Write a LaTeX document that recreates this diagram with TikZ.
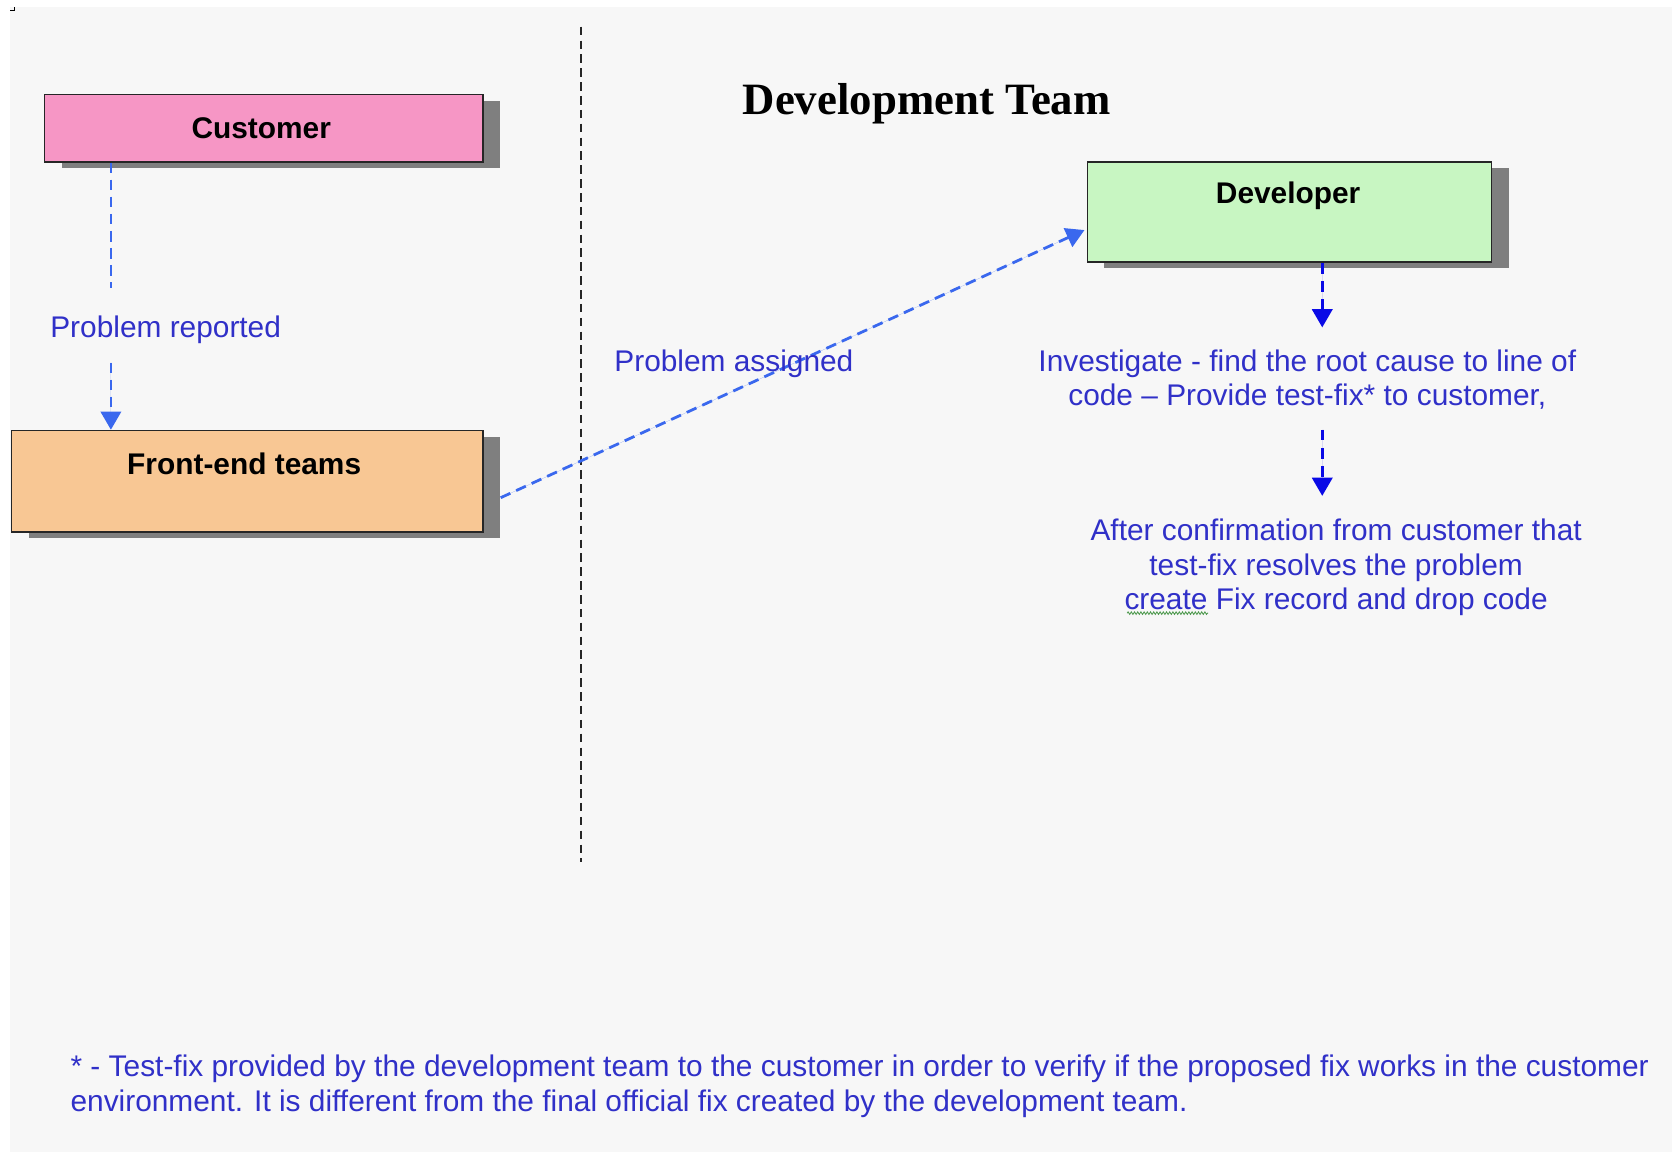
\documentclass[tikz,border=0pt]{standalone}
\usepackage{fontspec}
\setmainfont{Liberation Sans}
\newfontfamily\titlefont{Liberation Serif}
\usetikzlibrary{arrows.meta,shadows,decorations.pathmorphing}

\definecolor{pagegrey}{HTML}{F7F7F7}
\definecolor{custpink}{HTML}{F696C5}
\definecolor{frontpeach}{HTML}{F8C794}
\definecolor{devgreen}{HTML}{C8F6C2}
\definecolor{shadowgrey}{HTML}{7F7F7F}
\definecolor{flowblue}{HTML}{3A68EE}
\definecolor{stepblue}{HTML}{0A0AE6}
\definecolor{labelblue}{HTML}{3030C8}
\definecolor{spellgreen}{HTML}{4F9A4F}

\tikzset{
  rolebox/.style={draw=black!85, line width=1.5pt, minimum width=#1, anchor=north west,
    inner sep=0pt, drop shadow={shadow xshift=16pt, shadow yshift=-6pt,
    fill=shadowgrey, opacity=1}},
  rolename/.style={font=\fontsize{28}{32}\selectfont\bfseries, anchor=center, inner sep=0pt},
  bluetext/.style={font=\fontsize{28}{32.5}\selectfont, text=labelblue, inner sep=0pt, align=center},
  flow/.style={draw=flowblue, line width=2.6pt, dash pattern=on 10pt off 6pt},
  stepflow/.style={draw=stepblue, line width=2.6pt, dash pattern=on 10pt off 7pt},
  tip/.style={-{Triangle[width=19pt,length=17pt]}},
  divider/.style={draw=black!85, line width=2.2pt, dash pattern=on 8pt off 5pt},
}

\begin{document}
\begin{tikzpicture}[x=1pt, y=-1pt]
  % page
  \fill[white] (0,0) rectangle (1568,1080);
  \fill[pagegrey] (9.5,6.5) rectangle (1568,1080);
  \useasboundingbox (0,0) rectangle (1568,1080);
  \draw[black, line width=1.2pt] (9.5,10) -- (13.5,10) -- (13.5,6.5);

  % column divider
  \coordinate (divtop) at (545,25);
  \coordinate (divbot) at (545,808);
  \draw[divider] (divtop) -- (divbot);

  % title
  \node[font=\titlefont\fontsize{42}{46}\selectfont\bfseries, inner sep=0pt] (title) at (869,97) {Development Team};

  % role boxes
  \node[rolebox=411pt, minimum height=63pt, fill=custpink] (cust) at (41,88) {};
  \node[rolename] (custname) at (245,120) {Customer};

  \node[rolebox=442pt, minimum height=95pt, fill=frontpeach] (fe) at (10,403) {};
  \node[rolename] (fename) at (229,435) {Front-end teams};

  \node[rolebox=379pt, minimum height=94pt, fill=devgreen] (dev) at (1019,151) {};
  \node[rolename] (devname) at (1208,184) {Developer};

  % customer to front-end
  \coordinate (rep1) at (104,270);
  \coordinate (rep2) at (104,340);
  \draw[flow] (cust.south -| rep1) -- (rep1);
  \draw[flow, tip, fill=flowblue] (rep2) -- (fe.north -| rep2);
  \node[bluetext, anchor=west] (reported) at (47,309) {Problem reported};

  % front-end to developer
  \draw[flow, tip, fill=flowblue] ([xshift=16pt, yshift=-15.5pt]fe.east) -- ([xshift=-2pt, yshift=-17pt]dev.west);
  \node[bluetext, anchor=west] (assigned) at (576,341) {Problem assigned};

  % developer steps
  \coordinate (s1) at (1240,307);
  \draw[stepflow, tip, fill=stepblue] (dev.south -| s1) -- (s1);
  \node[bluetext] (investigate) at (1226,356) {Investigate - find the root cause to line of\\ code -- Provide test-fix* to customer,};

  \coordinate (s2) at (1240,403);
  \coordinate (s3) at (1240,465);
  \draw[stepflow, tip, fill=stepblue] (s2) -- (s3);
  \node[bluetext] (confirm) at (1253,532) {After confirmation from customer that\\ test-fix resolves the problem\\ create Fix record and drop code};
  \coordinate (sq1) at (1057,575);
  \coordinate (sq2) at (1133,575);
  \draw[spellgreen, line width=0.8pt, decorate, decoration={snake, segment length=3pt, amplitude=1.2pt}] (sq1) -- (sq2);

  % footnote
  \node[bluetext, align=left, anchor=west] (note) at (66,1019) {* - Test-fix provided by the development team to the customer in order to verify if the proposed fix works in the customer\\ environment. It is different from the final official fix created by the development team.};
\end{tikzpicture}
\end{document}
